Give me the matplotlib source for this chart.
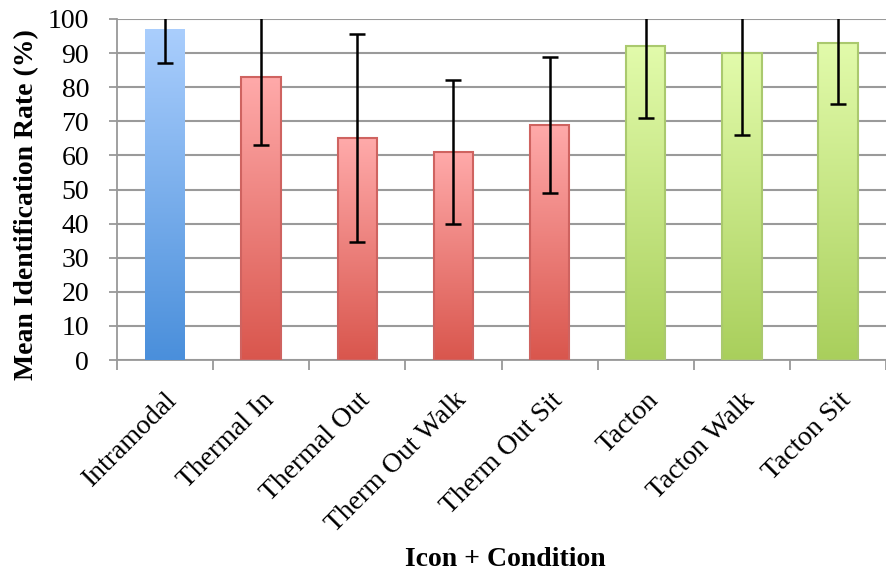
import numpy as np
import matplotlib
matplotlib.use("Agg")
import matplotlib.pyplot as plt
import matplotlib.transforms as mtransforms
from matplotlib.colors import LinearSegmentedColormap

categories = ["Intramodal", "Thermal In", "Thermal Out", "Therm Out Walk",
              "Therm Out Sit", "Tacton", "Tacton Walk", "Tacton Sit"]
means = [97, 83, 65, 61, 69, 92, 90, 93]
errors = [10, 20, 30.5, 21, 20, 21, 24, 18]
groups = ["blue", "red", "red", "red", "red", "green", "green", "green"]
y_ticks = [0, 10, 20, 30, 40, 50, 60, 70, 80, 90, 100]

palette = {
    "blue": ("#aacefd", "#4a8fdb", "none"),
    "red": ("#ffaaaa", "#d9564d", "#cf6360"),
    "green": ("#e2fbab", "#a9cf5c", "#aac96e"),
}

plt.rcParams['font.family'] = ['Liberation Serif', 'DejaVu Serif']

fig = plt.figure(figsize=(8.86, 5.74), dpi=100)
ax = fig.add_axes([117/886, 1 - 360/574, 1 - 117/886, (360 - 19)/574])

x = np.arange(len(categories))
bw = 0.41
bars = ax.bar(x, means, width=bw, color="none", zorder=3)
grad = np.linspace(1, 0, 256).reshape(-1, 1)
for b, g in zip(bars, groups):
    top, bot, edge = palette[g]
    cmap = LinearSegmentedColormap.from_list("g", [bot, top])
    x0, y0 = b.get_x(), b.get_y()
    w, h = b.get_width(), b.get_height()
    im = ax.imshow(grad, cmap=cmap, extent=[x0, x0 + w, 0, h], aspect="auto",
                   zorder=3, origin="upper", vmin=0, vmax=1)
    im.set_clip_path(b)
    if edge != "none":
        b.set_edgecolor(edge)
        b.set_linewidth(1.5)
        b.set_zorder(4)

ax.errorbar(x, means, yerr=errors, fmt="none", ecolor="black", elinewidth=1.8,
            capsize=5.5, capthick=1.8, zorder=5)

ax.set_xlim(-0.5, -0.5 + 769/97.1)
ax.set_ylim(0, 100)
ax.set_yticks(y_ticks)
ax.set_yticklabels([str(t) for t in y_ticks], fontsize=20)
ax.set_xticks(x)
ax.set_xticklabels(categories, rotation=45, ha="right", rotation_mode="anchor",
                   fontsize=20)
offset = mtransforms.ScaledTranslation(-6/100, 4/100, fig.dpi_scale_trans)
for lbl in ax.get_xticklabels():
    lbl.set_transform(lbl.get_transform() + offset)
ax.set_xticks(np.arange(len(categories) + 1) - 0.5, minor=True)
ax.tick_params(axis="x", which="major", length=0, pad=20)
ax.tick_params(axis="x", which="minor", length=7, width=1.3, color="#999999", direction="out")
ax.tick_params(axis="y", length=6, width=1.3, color="#999999", direction="out", pad=14)

ax.yaxis.grid(True, color="#9a9a9a", linewidth=1.5, zorder=0)
ax.set_axisbelow(True)
for s in ["top", "right"]:
    ax.spines[s].set_visible(False)
for s in ["left", "bottom"]:
    ax.spines[s].set_color("#999999")
    ax.spines[s].set_linewidth(1.3)

fig.text(27/886, 1 - 205/574, "Mean Identification Rate (%)", fontsize=20,
         fontweight="bold", rotation=90, ha="center", va="center")
fig.text(505/886, 1 - 560/574, "Icon + Condition", fontsize=20, fontweight="bold",
         ha="center", va="center")

fig.savefig("out.png", dpi=100)
